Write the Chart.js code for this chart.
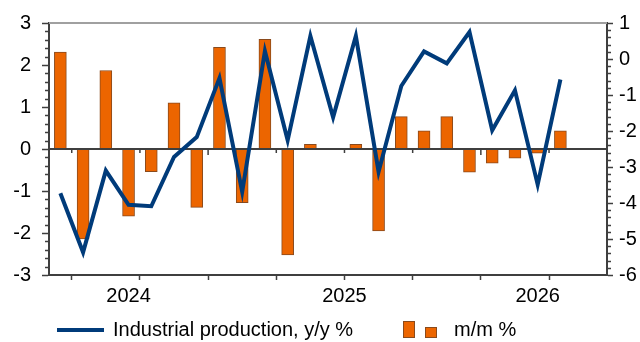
<!DOCTYPE html>
<html>
<head>
<meta charset="utf-8">
<script src="https://cdn.jsdelivr.net/npm/chart.js@4.4.1/dist/chart.umd.min.js"></script>
<style>
  html, body { margin: 0; padding: 0; background: #fff; }
</style>
</head>
<body>
<canvas id="ipChart" width="640" height="342"></canvas>
<script>
// Jun 2024 .. Apr 2026, one point per month
const months = ['Jun 2024', 'Jul 2024', 'Aug 2024', 'Sep 2024', 'Oct 2024', 'Nov 2024', 'Dec 2024',
    'Jan 2025', 'Feb 2025', 'Mar 2025', 'Apr 2025', 'May 2025', 'Jun 2025', 'Jul 2025', 'Aug 2025',
    'Sep 2025', 'Oct 2025', 'Nov 2025', 'Dec 2025', 'Jan 2026', 'Feb 2026', 'Mar 2026', 'Apr 2026'];
const ipYoY = [-3.73, -5.37, -3.10, -4.05, -4.09, -2.72, -2.17, -0.53, -3.69, 0.22, -2.26, 0.64,
    -1.62, 0.64, -3.13, -0.75, 0.21, -0.12, 0.75, -1.98, -0.87, -3.49, -0.57];
const ipMoM = [2.31, -2.14, 1.87, -1.60, -0.54, 1.10, -1.39, 2.42, -1.28, 2.61, -2.52, 0.11,
    0, 0.11, -1.95, 0.77, 0.43, 0.77, -0.55, -0.34, -0.22, -0.10, 0.43];
const yearLabels = ['2024', '2025', '2026'];
const yearLabelPos = [3, 12.5, 21];
const quarterTicks = [0.5, 3.5, 6.5, 9.5, 12.5, 15.5, 18.5, 21.5];
const yearBreaks = [6.5, 18.5];

const NAVY = '#003B7A';
const ORANGE = '#EC6500';
const BAR_EDGE = '#8A4A1C';
const AXIS = '#3F3F3F';
const FONT = '"Liberation Sans", Arial, sans-serif';

Chart.defaults.font.family = FONT;
Chart.defaults.font.size = 20;
Chart.defaults.color = '#000';

// top border, zero line with its ticks, minor y ticks, legend
const decorations = {
    id: 'decorations',
    afterDatasetDraw(chart, args) {
        if (args.index !== 1) return;
        const ctx = chart.ctx;
        const area = chart.chartArea;
        const x = chart.scales.x;
        const y0 = chart.scales.yLeft.getPixelForValue(0);
        ctx.save();
        ctx.strokeStyle = AXIS;
        ctx.lineWidth = 2;
        ctx.beginPath();
        ctx.moveTo(area.left, y0);
        ctx.lineTo(area.right, y0);
        ctx.stroke();
        ctx.lineWidth = 1.5;
        quarterTicks.forEach(function (q) {
            const px = x.getPixelForValue(q);
            const len = yearBreaks.includes(q) ? 6 : 4;
            ctx.beginPath();
            ctx.moveTo(px, y0);
            ctx.lineTo(px, y0 + len);
            ctx.stroke();
        });
        ctx.restore();
    },
    afterDraw(chart) {
        const ctx = chart.ctx;
        const area = chart.chartArea;
        ctx.save();
        // top border
        ctx.strokeStyle = '#A0A0A0';
        ctx.lineWidth = 2;
        ctx.beginPath();
        ctx.moveTo(area.left, area.top);
        ctx.lineTo(area.right, area.top);
        ctx.stroke();

        // minor ticks every 0.2 on both value axes
        ctx.strokeStyle = AXIS;
        ctx.lineWidth = 1.5;
        const yl = chart.scales.yLeft;
        const yr = chart.scales.yRight;
        for (let v = yl.min; v <= yl.max + 1e-6; v += 0.2) {
            if (Math.abs(v - Math.round(v)) < 1e-6) continue;
            const py = Math.round(yl.getPixelForValue(v)) + 0.5;
            ctx.beginPath();
            ctx.moveTo(area.left - 4, py);
            ctx.lineTo(area.left, py);
            ctx.stroke();
        }
        for (let v = yr.min; v <= yr.max + 1e-6; v += 0.2) {
            if (Math.abs(v - Math.round(v)) < 1e-6) continue;
            const py = Math.round(yr.getPixelForValue(v)) + 0.5;
            ctx.beginPath();
            ctx.moveTo(area.right, py);
            ctx.lineTo(area.right + 4, py);
            ctx.stroke();
        }

        // legend
        const ly = 330;
        ctx.strokeStyle = NAVY;
        ctx.lineWidth = 4;
        ctx.beginPath();
        ctx.moveTo(57, ly);
        ctx.lineTo(104, ly);
        ctx.stroke();
        ctx.fillStyle = ORANGE;
        ctx.strokeStyle = BAR_EDGE;
        ctx.lineWidth = 1;
        ctx.fillRect(403, 321, 12, 17);
        ctx.strokeRect(403.5, 321.5, 11, 16);
        ctx.fillRect(425, 327, 12, 11);
        ctx.strokeRect(425.5, 327.5, 11, 10);
        ctx.fillStyle = '#000';
        ctx.font = '20px ' + FONT;
        ctx.textBaseline = 'middle';
        ctx.fillText('Industrial production, y/y %', 113, ly);
        ctx.fillText('m/m %', 454, ly);
        ctx.restore();
    }
};

const ctx = document.getElementById('ipChart').getContext('2d');
new Chart(ctx, {
    type: 'bar',
    data: {
        labels: months,
        datasets: [{
            type: 'line',
            label: 'Industrial production, y/y %',
            data: ipYoY.map(function (v, i) { return { x: i, y: v }; }),
            yAxisID: 'yRight',
            borderColor: NAVY,
            borderWidth: 4,
            pointRadius: 0,
            tension: 0,
            order: 0
        }, {
            type: 'bar',
            label: 'm/m %',
            data: ipMoM.map(function (v, i) { return { x: i, y: v }; }),
            yAxisID: 'yLeft',
            backgroundColor: ORANGE,
            borderColor: BAR_EDGE,
            borderWidth: 1,
            barThickness: 12,
            order: 1
        }]
    },
    options: {
        responsive: false,
        animation: false,
        layout: { padding: { top: 15, bottom: 30, left: 0, right: 0 } },
        plugins: {
            legend: { display: false },
            tooltip: { enabled: false }
        },
        scales: {
            x: {
                type: 'linear',
                min: -0.5,
                max: 24.05,
                offset: false,
                afterBuildTicks: function (scale) {
                    const vals = Array.from(new Set(quarterTicks.concat(yearLabelPos))).sort(function (a, b) { return a - b; });
                    scale.ticks = vals.map(function (v) { return { value: v }; });
                },
                afterFit: function (scale) { scale.height = 37; },
                ticks: {
                    autoSkip: false,
                    maxRotation: 0,
                    padding: 4,
                    callback: function (value) {
                        const k = yearLabelPos.indexOf(value);
                        return k >= 0 ? yearLabels[k] : '';
                    }
                },
                grid: {
                    offset: false,
                    drawOnChartArea: false,
                    tickLength: 5,
                    tickWidth: 1.5,
                    tickColor: function (c) {
                        return c.tick && quarterTicks.includes(c.tick.value) ? AXIS : 'rgba(0,0,0,0)';
                    }
                },
                border: { color: AXIS, width: 2 }
            },
            yLeft: {
                type: 'linear',
                position: 'left',
                min: -3,
                max: 3,
                afterFit: function (scale) { scale.width = 49; },
                ticks: { stepSize: 1, padding: 11 },
                grid: { drawOnChartArea: false, tickLength: 7, tickColor: AXIS, tickWidth: 1.5 },
                border: { color: AXIS, width: 2 }
            },
            yRight: {
                type: 'linear',
                position: 'right',
                min: -6,
                max: 1,
                afterFit: function (scale) { scale.width = 33; },
                ticks: { stepSize: 1, padding: 6 },
                grid: { drawOnChartArea: false, tickLength: 6, tickColor: AXIS, tickWidth: 1.5 },
                border: { color: AXIS, width: 2 }
            }
        }
    },
    plugins: [decorations]
});
</script>
</body>
</html>
